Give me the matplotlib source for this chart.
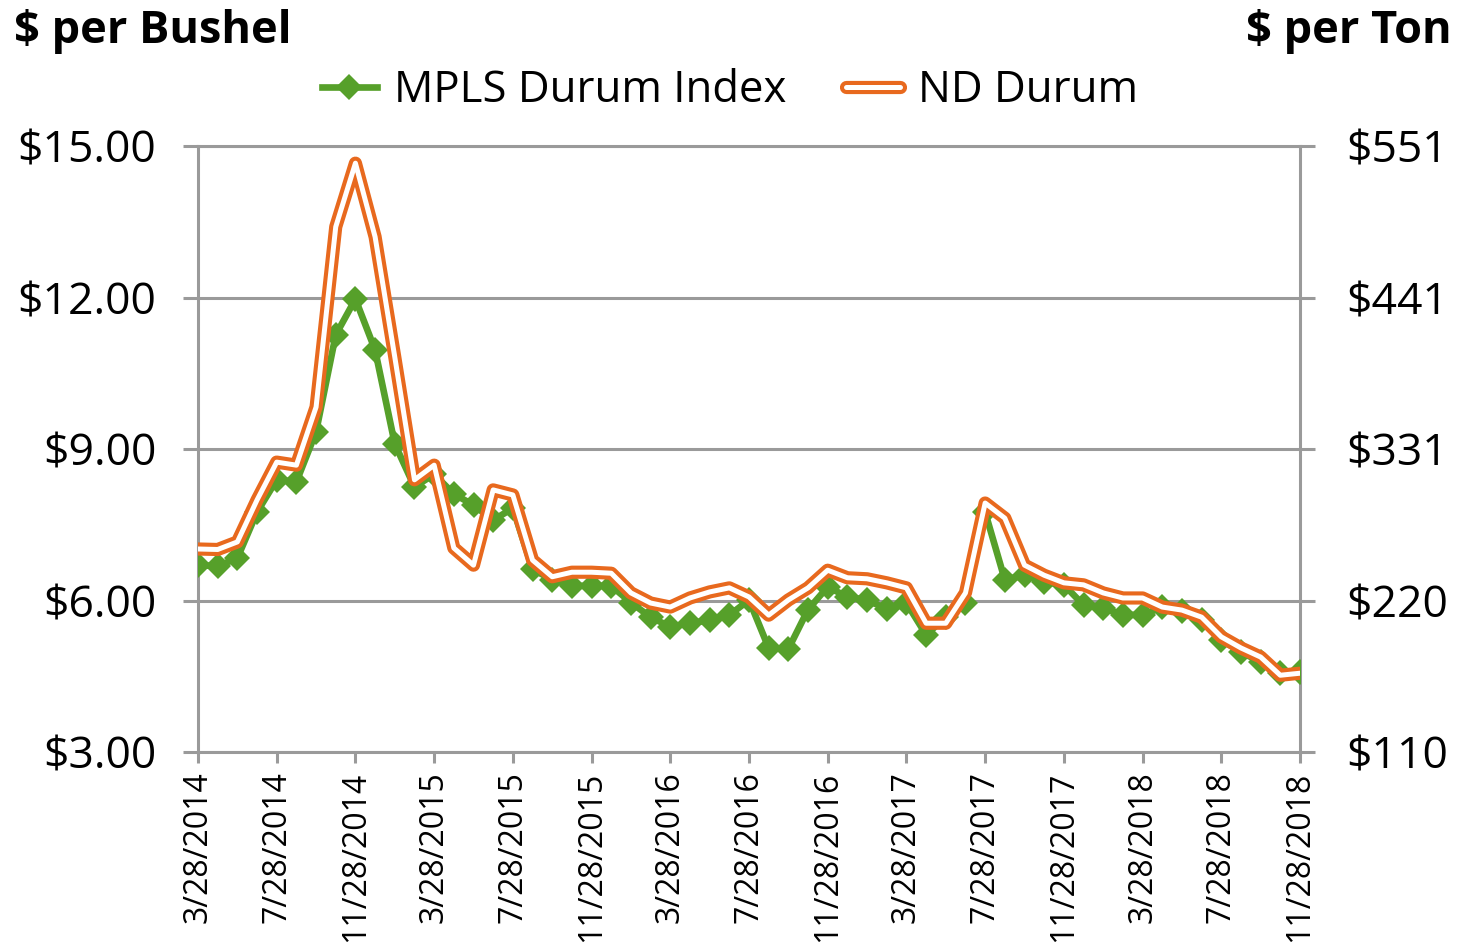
import matplotlib
matplotlib.use("Agg")
import matplotlib.pyplot as plt

plt.rcParams['font.family'] = ['Open Sans', 'DejaVu Sans']

tick_labels = ["3/28/2014", "7/28/2014", "11/28/2014", "3/28/2015", "7/28/2015",
               "11/28/2015", "3/28/2016", "7/28/2016", "11/28/2016", "3/28/2017",
               "7/28/2017", "11/28/2017", "3/28/2018", "7/28/2018", "11/28/2018"]

mpls = [6.70, 6.68, 6.84, 7.75, 8.39, 8.35, 9.34, 11.26, 11.97, 10.96,
        9.10, 8.25, 8.50, 8.11, 7.89, 7.59, 7.83, 6.62, 6.41, 6.29,
        6.29, 6.29, 5.96, 5.67, 5.48, 5.55, 5.61, 5.71, 6.01, 5.06,
        5.04, 5.82, 6.27, 6.07, 6.01, 5.83, 5.95, 5.32, 5.67, 5.95,
        7.75, 6.41, 6.50, 6.37, 6.31, 5.91, 5.85, 5.72, 5.71, 5.87,
        5.80, 5.61, 5.22, 4.98, 4.78, 4.56, 4.58]

nd_durum = [7.02, 7.01, 7.16, 7.99, 8.74, 8.68, 9.83, 13.40, 14.66, 13.20,
            10.82, 8.39, 8.68, 7.04, 6.70, 8.19, 8.09, 6.80, 6.47, 6.56,
            6.56, 6.54, 6.15, 5.95, 5.87, 6.05, 6.17, 6.25, 6.07, 5.71,
            6.01, 6.25, 6.60, 6.45, 6.43, 6.35, 6.25, 5.55, 5.55, 6.15,
            7.93, 7.63, 6.70, 6.50, 6.35, 6.31, 6.15, 6.05, 6.05, 5.87,
            5.81, 5.67, 5.28, 5.06, 4.88, 4.52, 4.56]

left_ticks = [3, 6, 9, 12, 15]
left_labels = ["$3.00", "$6.00", "$9.00", "$12.00", "$15.00"]
right_labels = ["$110", "$220", "$331", "$441", "$551"]

GREEN = '#56a02a'
ORANGE = '#e8691e'
GRAY = '#9a9a9a'

fig = plt.figure(figsize=(14.58, 9.42), dpi=100)
ax = fig.add_axes([198/1458, 1-752/942, (1300-198)/1458, (752-146)/942])

x = list(range(len(mpls)))

l_green, = ax.plot(x, mpls, color=GREEN, lw=4.8, marker='D', ms=13.5, mew=0,
                   zorder=3, label='MPLS Durum Index')
l_or1, = ax.plot(x, nd_durum, color=ORANGE, lw=9.5, solid_joinstyle='round',
                 solid_capstyle='round', zorder=4)
l_or2, = ax.plot(x, nd_durum, color='white', lw=3.6, solid_joinstyle='round',
                 solid_capstyle='round', zorder=5)

ax.set_xlim(0, len(mpls) - 1)
ax.set_ylim(3, 15)

ax.set_xticks(list(range(0, len(mpls), 4)))
ax.set_xticklabels(tick_labels, rotation=90, fontsize=23)
ax.set_yticks(left_ticks)
ax.set_yticklabels(left_labels, fontsize=32)

ax.yaxis.grid(True, color=GRAY, lw=2.2)
ax.set_axisbelow(True)
for s in ax.spines.values():
    s.set_color(GRAY)
    s.set_linewidth(2.2)

ax.tick_params(axis='y', which='both', length=11, width=2.2, color=GRAY,
               pad=19, left=True, right=True, direction='out')
ax.tick_params(axis='x', length=8, width=2.2, color=GRAY, pad=6, direction='out')

ax2 = ax.twinx()
ax2.set_ylim(ax.get_ylim())
ax2.set_yticks(left_ticks)
ax2.set_yticklabels(right_labels, fontsize=32)
ax2.tick_params(axis='y', length=11, width=2.2, color=GRAY, pad=22)
for s in ax2.spines.values():
    s.set_visible(False)

fig.text(14/1458, 1-32/942, "$ per Bushel", fontsize=32.5, fontweight='bold',
         ha='left', va='center')
fig.text(1452/1458, 1-32/942, "$ per Ton", fontsize=32.5, fontweight='bold',
         ha='right', va='center')

leg = fig.legend([l_green, (l_or1, l_or2)], ['MPLS Durum Index', 'ND Durum'],
                 loc='center', bbox_to_anchor=(730/1458, 1-91/942), ncol=2,
                 frameon=False, fontsize=31.5, handlelength=1.25,
                 columnspacing=1.35, handletextpad=0.4)

fig.savefig('out.png', dpi=100)
